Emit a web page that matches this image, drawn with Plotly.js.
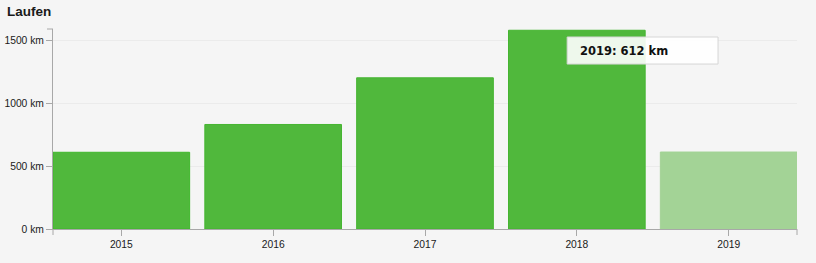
<!DOCTYPE html>
<html>
<head>
<meta charset="utf-8">
<script src="https://cdn.plot.ly/plotly-3.0.1.min.js"></script>
<style>
html,body{margin:0;padding:0;background:#f5f5f5;}
#chart{width:816px;height:263px;}
</style>
</head>
<body>
<div id="chart"></div>
<script>
const years = ['2015', '2016', '2017', '2018', '2019'];
const distanceKm = [610, 831, 1202, 1580, 612];
const barColors = ['#50b83c', '#50b83c', '#50b83c', '#50b83c', '#a3d396'];
const barLineColors = ['#3fb82a', '#45b531', '#45b531', '#45b531', '#a3d396'];
const yTicks = [0, 500, 1000, 1500];
const yTickLabels = ['0 km', '500 km', '1000 km', '1500 km'];
const hoverYear = '2019';
const hoverValue = 612;

const trace = {
  type: 'bar',
  x: years,
  y: distanceKm,
  marker: {color: barColors, line: {color: barLineColors, width: 1}},
  hoverinfo: 'skip'
};

const axisColor = '#a8a8a8';
const tickFont = {family: 'Liberation Sans, Arial, sans-serif', size: 10.3, color: '#1a1a1a'};

const layout = {
  width: 816, height: 263,
  paper_bgcolor: '#f5f5f5', plot_bgcolor: '#f5f5f5',
  margin: {l: 52.5, r: 19, t: 29, b: 34.3, pad: 0},
  showlegend: false,
  bargap: 0.1,
  title: {
    text: '<b>Laufen</b>',
    font: {family: 'Liberation Sans, Arial, sans-serif', size: 13.5, color: '#1a1a1a'},
    xref: 'container', yref: 'container',
    x: 7/816, xanchor: 'left', y: 1 - 11/263, yanchor: 'middle'
  },
  xaxis: {
    type: 'category',
    range: [-0.45, 4.45],
    showline: true, linecolor: axisColor, linewidth: 1,
    ticks: 'outside', ticklen: 6, tickcolor: axisColor, tickwidth: 1,
    tickfont: tickFont,
    showgrid: false, zeroline: false, fixedrange: true
  },
  yaxis: {
    range: [0, 1590],
    tickmode: 'array',
    tickvals: yTicks,
    ticktext: yTickLabels,
    showline: true, linecolor: axisColor, linewidth: 1,
    ticks: 'outside', ticklen: 6, tickcolor: axisColor, tickwidth: 1,
    tickfont: tickFont,
    showgrid: true, gridcolor: '#ebebeb', gridwidth: 1,
    zeroline: false, fixedrange: true
  },
  shapes: [
    {type: 'line', xref: 'paper', yref: 'paper', xsizemode: 'pixel', xanchor: 0,
     x0: -6, x1: 0, y0: 1, y1: 1, line: {color: axisColor, width: 1}},
    {type: 'line', xref: 'paper', yref: 'paper', ysizemode: 'pixel', yanchor: 0,
     x0: 0, x1: 0, y0: 0, y1: -6, line: {color: axisColor, width: 1}},
    {type: 'line', xref: 'paper', yref: 'paper', ysizemode: 'pixel', yanchor: 0,
     x0: 1, x1: 1, y0: 0, y1: -6, line: {color: axisColor, width: 1}},
    {type: 'line', xref: 'x', yref: 'paper', x0: hoverYear, x1: hoverYear, y0: 0, y1: 1,
     line: {color: '#999', width: 1}, layer: 'above'},
    {type: 'rect', xref: 'paper', yref: 'paper',
     x0: (567 - 52.5) / 744.5, x1: (718 - 52.5) / 744.5,
     y0: (228.7 - 64) / 199.7, y1: (228.7 - 37) / 199.7,
     fillcolor: 'rgba(255,255,255,0.9)', line: {color: '#d6d6d6', width: 1}, layer: 'above'}
  ],
  annotations: [
    {xref: 'paper', yref: 'paper',
     x: (578 - 52.5) / 744.5, xanchor: 'left',
     y: (228.7 - 50.5) / 199.7, yanchor: 'middle',
     text: '<b>' + hoverYear + ': ' + hoverValue + ' km</b>',
     showarrow: false,
     font: {family: 'DejaVu Sans, Verdana, sans-serif', size: 11.5, color: '#111'}}
  ]
};

Plotly.newPlot('chart', [trace], layout, {displayModeBar: false, staticPlot: true});
</script>
</body>
</html>
